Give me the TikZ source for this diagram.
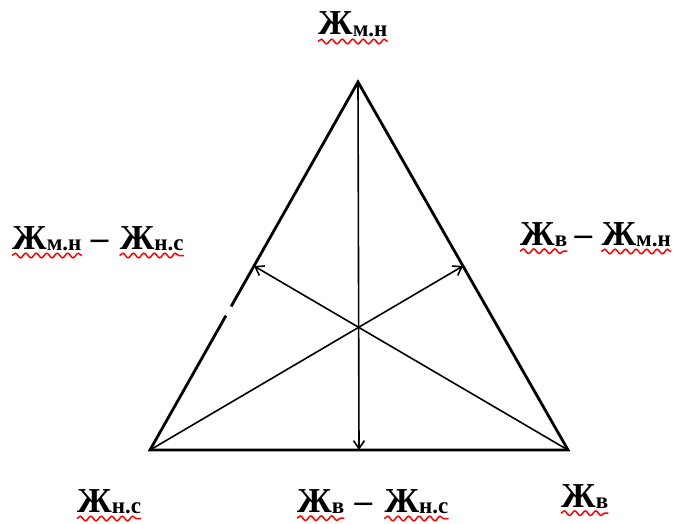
\documentclass[tikz,border=0pt]{standalone}
\usepackage{fontspec}
\setmainfont{Liberation Serif}
\usetikzlibrary{arrows.meta,calc,positioning,decorations.pathmorphing}
\newcommand{\zh}[1]{Ж\raisebox{-1.5pt}{\fontsize{23}{23}\selectfont #1}}

\tikzset{
  term/.style={font=\bfseries\fontsize{35}{35}\selectfont,inner sep=0pt},
  sides/.style={line width=2.8pt,line join=miter},
  median/.style={line width=1.6pt,-{Straight Barb[length=8pt,width=11pt]}},
  wavy/.style={red,line width=1.5pt,decorate,
    decoration={snake,segment length=10.5pt,amplitude=2.3pt}},
}

\begin{document}
\begin{tikzpicture}[x=1pt,y=-1pt]
  \useasboundingbox (0,0) rectangle (686,524);
  % vertices of the triangle
  \coordinate (tp) at (358,82);
  \coordinate (bl) at (150,450);
  \coordinate (br) at (568,450);
  \coordinate (mL) at ($(bl)!0.5!(tp)$);
  \coordinate (mR) at ($(br)!0.5!(tp)$);
  \coordinate (mB) at ($(bl)!0.5!(br)$);
  \draw[sides] ($(bl)!0.39!(tp)$) -- (tp) -- (br) -- (bl) -- ($(bl)!0.365!(tp)$);
  \draw[median] (tp) -- (mB);
  \draw[median] (br) -- (mL);
  \draw[median] (bl) -- (mR);
  % labels
  \node[term,anchor=base west] (mnT) at (318,35) {\zh{м.н}};
  \node[term,anchor=base west] (mnL) at (12,249) {\zh{м.н}};
  \node[term,base right=9pt of mnL] (dL) {--};
  \node[term,base right=11pt of dL] (nsL) {\zh{н.с}};
  \node[term,anchor=base west] (vR) at (520,245) {\zh{в}};
  \node[term,base right=7pt of vR] (dR) {--};
  \node[term,base right=9pt of dR] (mnR) {\zh{м.н}};
  \node[term,anchor=base west] (nsB) at (77,512) {\zh{н.с}};
  \node[term,anchor=base west] (vB) at (297,512) {\zh{в}};
  \node[term,base right=10pt of vB] (dB) {--};
  \node[term,base right=12pt of dB] (nsM) {\zh{н.с}};
  \node[term,anchor=base west] (vBR) at (561,507) {\zh{в}};
  % spelling marks
  \foreach \t in {mnT,mnL,nsL,vR,mnR,nsB,vB,nsM,vBR}
    \draw[wavy] ([yshift=-4.5pt]\t.south west) -- ([yshift=-4.5pt]\t.south east);
\end{tikzpicture}
\end{document}
